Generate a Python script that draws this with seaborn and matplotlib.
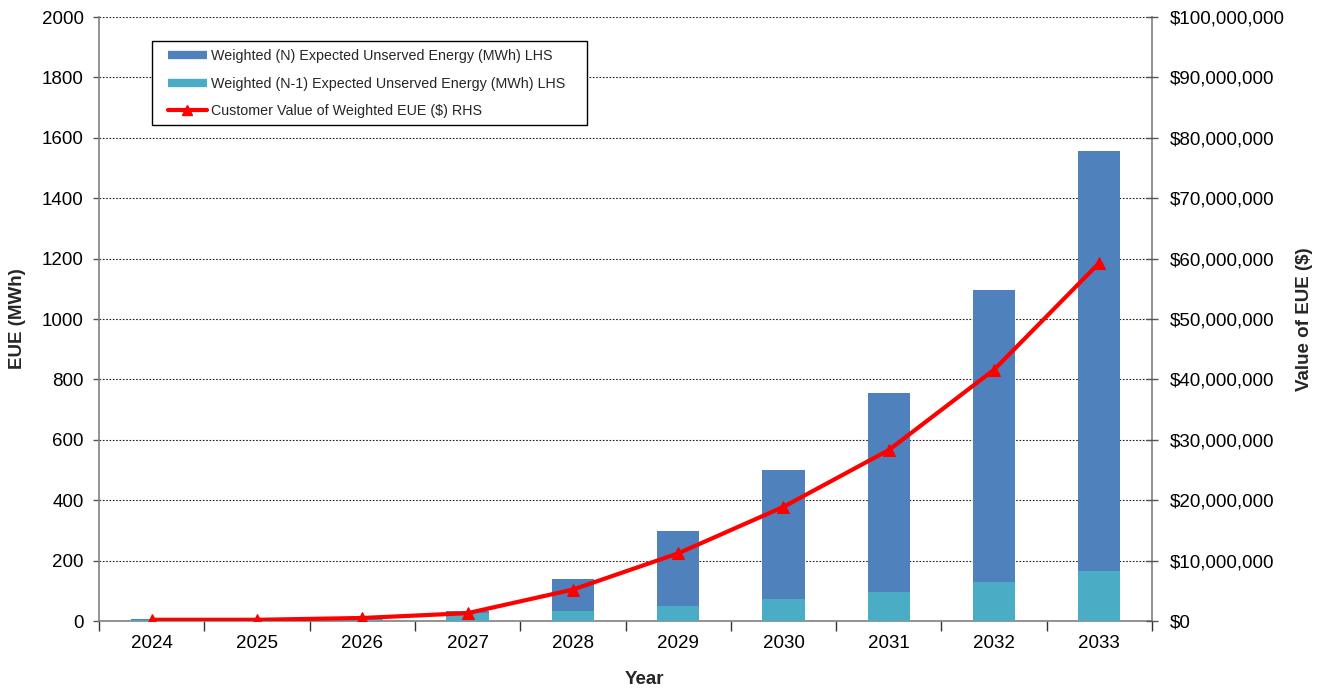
import numpy as np
import pandas as pd
import matplotlib
matplotlib.use("Agg")
import matplotlib.pyplot as plt
from matplotlib.lines import Line2D
from matplotlib.patches import Rectangle
from matplotlib.ticker import FuncFormatter, FixedLocator
import seaborn as sns

years = ["2024", "2025", "2026", "2027", "2028", "2029", "2030", "2031", "2032", "2033"]
eue_n = [3, 1, 4, 5, 106, 249, 427, 657, 966, 1389]
eue_n1 = [2, 2, 6, 28, 33, 50, 73, 97, 130, 167]
value_eue = [0.2e6, 0.2e6, 0.5e6, 1.3e6, 5.2e6, 11.2e6, 18.9e6, 28.3e6, 41.6e6, 59.3e6]

lbl_n = "Weighted (N) Expected Unserved Energy (MWh) LHS"
lbl_n1 = "Weighted (N-1) Expected Unserved Energy (MWh) LHS"
lbl_v = "Customer Value of Weighted EUE ($) RHS"

c_n = "#4F81BD"
c_n1 = "#4BACC6"
c_v = "#FF0000"

sns.set_theme(style="white")
plt.rcParams["font.family"] = ["Liberation Sans", "DejaVu Sans"]

df = pd.DataFrame({"Year": years, "N": eue_n, "N1": eue_n1, "Value": value_eue})
df["Total"] = df["N"] + df["N1"]
df["pos"] = np.arange(len(years))

W, H = 1323, 688
fig = plt.figure(figsize=(W / 100, H / 100), dpi=100)
L, R, T, B = 99, 1152, 17, 621
ax = fig.add_axes([L / W, 1 - B / H, (R - L) / W, (B - T) / H])

# stacked bars: total in dark blue, N-1 portion in light blue at the bottom
sns.barplot(data=df, x="Year", y="Total", color=c_n, width=0.4, saturation=1,
            linewidth=0, ax=ax, zorder=2)
sns.barplot(data=df, x="Year", y="N1", color=c_n1, width=0.4, saturation=1,
            linewidth=0, ax=ax, zorder=3)

ax.set_xlim(-0.5, len(years) - 0.5)
ax.set_ylim(0, 2000)
ax.set_yticks(np.arange(0, 2001, 200))
ax.yaxis.grid(True, color="#222222", linestyle=(0, (1.5, 1.5)), linewidth=0.8)
ax.set_axisbelow(True)

ax.xaxis.set_minor_locator(FixedLocator(np.arange(-0.5, len(years), 1.0)))
ax.tick_params(axis="x", which="major", bottom=False, length=0, labelsize=13.5,
               pad=10, colors="black")
ax.tick_params(axis="x", which="minor", bottom=True, length=7, width=1,
               color="#333333", direction="out")
ax.tick_params(axis="y", which="major", left=True, length=4, width=1,
               color="#555555", labelsize=13.5, pad=7, labelcolor="black")

for side in ["left", "right", "bottom"]:
    ax.spines[side].set_visible(True)
    ax.spines[side].set_color("#808080")
    ax.spines[side].set_linewidth(1.2)
ax.spines["top"].set_visible(False)

ax.set_xlabel("Year", fontsize=13.5, fontweight="bold")
ax.set_ylabel("EUE (MWh)", fontsize=13.5, fontweight="bold")
ax.xaxis.set_label_coords((644 - L) / (R - L), (B - 671) / (B - T))
ax.yaxis.set_label_coords((26 - L) / (R - L), 0.5)

ax2 = ax.twinx()
sns.lineplot(data=df, x="pos", y="Value", color=c_v, linewidth=3, marker="^",
             markersize=9, markeredgecolor=c_v, ax=ax2, zorder=5)
ax2.set_xlim(-0.5, len(years) - 0.5)
ax2.set_ylim(0, 100e6)
ax2.set_yticks(np.arange(0, 100e6 + 1, 10e6))
ax2.yaxis.set_major_formatter(FuncFormatter(lambda v, p: f"${v:,.0f}"))
ax2.tick_params(axis="y", right=True, length=8, width=1, color="#555555",
                direction="inout", labelsize=13.5, pad=9, labelcolor="black")
ax2.set_ylabel("Value of EUE ($)", fontsize=13.5, fontweight="bold")
ax2.yaxis.set_label_coords((1296 - L) / (R - L), 0.5)
for s in ax2.spines.values():
    s.set_visible(False)

# legend box drawn separately so its padding can be set freely
fig.patches.append(Rectangle((152 / W, 1 - 125 / H), (587 - 152) / W, (125 - 41) / H,
                             transform=fig.transFigure, facecolor="white",
                             edgecolor="black", linewidth=1.0, zorder=10))
handles = [
    Line2D([0], [0], color=c_n, linewidth=6, solid_capstyle="butt"),
    Line2D([0], [0], color=c_n1, linewidth=6, solid_capstyle="butt"),
    Line2D([0], [0], color=c_v, linewidth=3, marker="^", markersize=7),
]
leg = fig.legend(handles, [lbl_n, lbl_n1, lbl_v], loc="upper left",
                 bbox_to_anchor=(168 / W, 1 - 49 / H), bbox_transform=fig.transFigure,
                 fontsize=10.3, frameon=False, handlelength=2.7, handletextpad=0.3,
                 borderpad=0, labelspacing=0.95, borderaxespad=0)
leg.set_zorder(11)

fig.savefig("out.png", dpi=100)
